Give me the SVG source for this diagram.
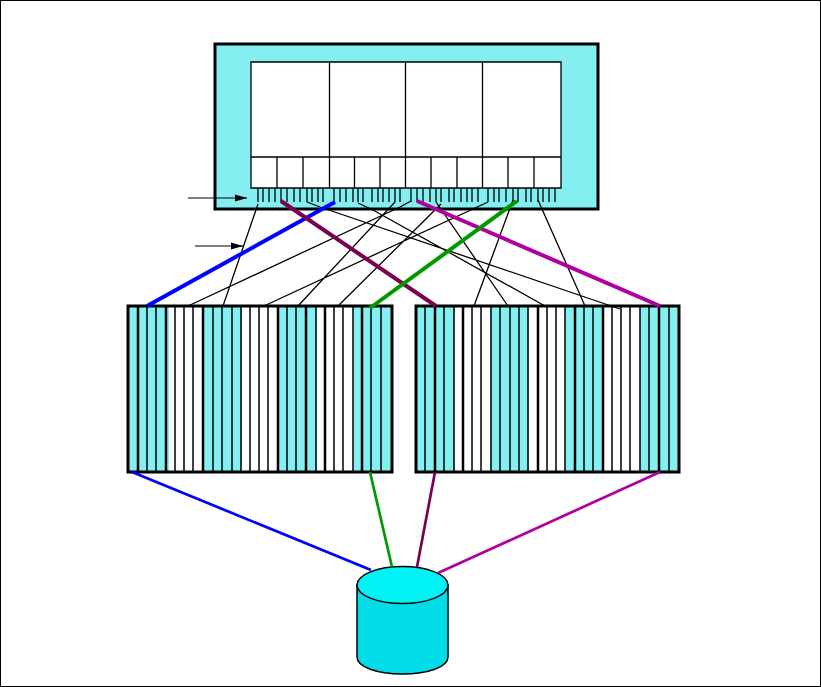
<svg xmlns="http://www.w3.org/2000/svg" width="821" height="687" viewBox="0 0 821 687">
<defs>
<marker id="ah" markerUnits="userSpaceOnUse" markerWidth="13" markerHeight="8" refX="12" refY="4" orient="auto"><path d="M0 0.500L12 4L0 7.500Z" fill="#000"/></marker>
</defs>
<style>
.c{fill:#84eef1}
.w{fill:#fff}
.o{fill:none;stroke:#000;stroke-width:3}
.t{fill:none;stroke:#000;stroke-width:1.300}
.b{fill:none;stroke:#000;stroke-width:1.500}
.m{fill:none;stroke:#000;stroke-width:2.500}
.k{fill:none;stroke-width:4}
.n{fill:none;stroke-width:2.700}
.a{fill:none;stroke:#000;stroke-width:1.200;marker-end:url(#ah)}
</style>
<rect x="0.5" y="0.5" width="820" height="686" fill="#fff" stroke="#000"/>
<g id="node-server">
<rect class="c" x="215" y="44" width="383" height="165"/>
<rect class="w" x="251" y="62" width="310" height="126"/>
<path class="t" d="M251 62H561V188H251ZM251 157H561M329.500 62V188M405.500 62V188M482.500 62V188M277 157V188M303 157V188M354.500 157V188M380 157V188M431 157V188M457 157V188M508 157V188M534 157V188"/>
<path class="t" d="M258 188V202M263 188V202M269 188V202M275 188V202M281 188V202M287 188V202M294 188V202M300 188V202M307 188V202M312 188V202M318 188V202M323 188V202M334 188V202M340 188V202M346 188V202M353 188V202M358 188V202M363 188V202M372 188V202M378 188V202M383 188V202M389 188V202M395 188V202M400 188V202M411 188V202M417 188V202M423 188V202M430 188V202M436 188V202M441 188V202M449 188V202M454 188V202M461 188V202M467 188V202M472 188V202M478 188V202M488 188V202M494 188V202M499 188V202M506 188V202M513 188V202M518 188V202M526 188V202M531 188V202M538 188V202M543 188V202M549 188V202M555 188V202"/>
<rect class="o" x="215" y="44" width="383" height="165"/>
</g>
<g id="node-array-left">
<rect class="w" x="128" y="306" width="264" height="166"/>
<rect class="c" x="128" y="306" width="41" height="166"/>
<rect class="c" x="203" y="306" width="39" height="166"/>
<rect class="c" x="278" y="306" width="39" height="166"/>
<rect class="c" x="353" y="306" width="39" height="166"/>
<path class="b" d="M147 306V472M156 306V472M175 306V472M184 306V472M193 306V472M213 306V472M222 306V472M232 306V472M241 306V472M250 306V472M259 306V472M268 306V472M287 306V472M296 306V472M316 306V472M334 306V472M343 306V472M353 306V472M371 306V472M381 306V472"/>
<path class="m" d="M138 306V472M166 306V472M203 306V472M278 306V472M306 306V472M325 306V472M362 306V472"/>
<rect class="o" x="128" y="306" width="264" height="166"/>
</g>
<g id="node-array-right">
<rect class="w" x="416" y="306" width="263" height="166"/>
<rect class="c" x="416" y="306" width="39" height="166"/>
<rect class="c" x="490" y="306" width="39" height="166"/>
<rect class="c" x="565" y="306" width="39" height="166"/>
<rect class="c" x="640" y="306" width="39" height="166"/>
<path class="b" d="M425 306V472M444 306V472M454 306V472M472 306V472M481 306V472M491 306V472M500 306V472M510 306V472M519 306V472M528 306V472M547 306V472M556 306V472M565 306V472M584 306V472M593 306V472M612 306V472M621 306V472M630 306V472M640 306V472M649 306V472M669 306V472"/>
<path class="m" d="M435 306V472M463 306V472M538 306V472M575 306V472M603 306V472M659 306V472"/>
<rect class="o" x="416" y="306" width="263" height="166"/>
</g>
<g id="node-disk">
<path d="M357 585V657C357 667 377 674 402.500 674S448 667 448 657V585Z" fill="#00dde8" stroke="#000" stroke-width="1.500"/>
<ellipse cx="402.500" cy="585" rx="45.500" ry="18.500" fill="#00f2f5" stroke="#000" stroke-width="1.500"/>
</g>
<g id="connectors">
<path class="t" d="M258 204L223 306M411 201L400 207L188 306M488 202L264 306M395 202L298 306M441 204L338 306M513 200L474 306M436 202L508 306M358 203L373 210L545 306M538 200L585 306M307 202L320 207L620 309"/>
<path class="k" stroke="#0000ff" d="M335 202L147 306"/>
<path class="k" stroke="#7a0050" d="M281 201L436 306"/>
<path class="k" stroke="#b000a0" d="M417 201L660 306"/>
<path class="k" stroke="#009a00" d="M517 201L370 308"/>
<path class="n" stroke="#0000ff" d="M132 472L371 570"/>
<path class="n" stroke="#009a00" d="M370 472L392 567"/>
<path class="n" stroke="#7a0050" d="M435 472L417 567"/>
<path class="n" stroke="#b000a0" d="M660 472L438 573"/>
<path class="a" d="M188 198H247"/>
<path class="a" d="M195 246H243"/>
</g>
</svg>
